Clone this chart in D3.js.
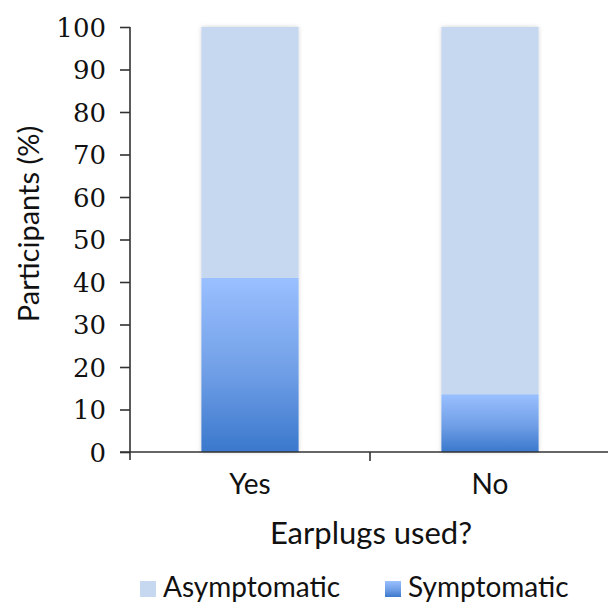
<!DOCTYPE html>
<html>
<head>
<meta charset="utf-8">
<script src="https://cdn.jsdelivr.net/npm/d3@7"></script>
<style>
  html, body { margin: 0; padding: 0; background: #fff; }
  svg { display: block; }
</style>
</head>
<body>
<svg id="chart" width="608" height="606"></svg>
<script>
// Share of participants with symptoms, by earplug use
const categories = ["Yes", "No"];
const symptomatic = [41, 13.6];
const asymptomatic = [59, 86.4];
const seriesNames = ["Asymptomatic", "Symptomatic"];
const yTicks = [0, 10, 20, 30, 40, 50, 60, 70, 80, 90, 100];

const svg = d3.select("#chart");
const sansFont = "Lato, 'Open Sans', sans-serif";
const serifFont = "'DejaVu Serif', serif";
const axisColor = "#333";

const x = d3.scaleBand().domain(categories).range([130, 610]);
const y = d3.scaleLinear().domain([0, 100]).range([452, 27]);
const barW = x.bandwidth() * 0.405;

const defs = svg.append("defs");
const grad = defs.append("linearGradient")
  .attr("id", "symGrad").attr("x1", 0).attr("y1", 0).attr("x2", 0).attr("y2", 1);
grad.append("stop").attr("offset", "0%").attr("stop-color", "#9ac0ff");
grad.append("stop").attr("offset", "55%").attr("stop-color", "#6f9ee6");
grad.append("stop").attr("offset", "100%").attr("stop-color", "#3a78cc");

const shadow = defs.append("filter").attr("id", "soft")
  .attr("x", "-10%").attr("y", "-5%").attr("width", "120%").attr("height", "110%");
shadow.append("feDropShadow").attr("dx", 0).attr("dy", 0)
  .attr("stdDeviation", 2).attr("flood-color", "#000").attr("flood-opacity", 0.18);

// stacked data
const rows = categories.map((c, i) => ({ cat: c, Symptomatic: symptomatic[i], Asymptomatic: asymptomatic[i] }));
const stack = d3.stack().keys(["Symptomatic", "Asymptomatic"])(rows);
const fills = { Asymptomatic: "#c6d8f0", Symptomatic: "url(#symGrad)" };

const barG = svg.append("g").attr("filter", "url(#soft)");
stack.forEach(layer => {
  barG.selectAll(null).data(layer).enter().append("rect")
    .attr("x", d => x(d.data.cat) + (x.bandwidth() - barW) / 2)
    .attr("width", barW)
    .attr("y", d => y(d[1]))
    .attr("height", d => y(d[0]) - y(d[1]))
    .attr("fill", fills[layer.key]);
});

// y axis
const yAxis = svg.append("g").attr("transform", "translate(130,0)")
  .call(d3.axisLeft(y).tickValues(yTicks).tickSize(10).tickPadding(14));
yAxis.select(".domain").attr("stroke", axisColor).attr("stroke-width", 1.6).attr("d", `M0,${y(100)}V${y(0) + 8}`);
yAxis.selectAll(".tick line").attr("stroke", axisColor).attr("stroke-width", 1.6);
yAxis.selectAll(".tick text").attr("font-family", serifFont).attr("font-size", 26)
  .attr("fill", "#111").attr("dy", "0.36em");

// x axis with ticks between categories
const xAxisG = svg.append("g");
xAxisG.append("line").attr("x1", 120).attr("x2", 610).attr("y1", y(0)).attr("y2", y(0))
  .attr("stroke", axisColor).attr("stroke-width", 1.6);
categories.forEach(c => {
  const bx = x(c) + x.bandwidth();
  xAxisG.append("line").attr("x1", bx).attr("x2", bx).attr("y1", y(0)).attr("y2", y(0) + 9)
    .attr("stroke", axisColor).attr("stroke-width", 1.6);
  xAxisG.append("text").attr("x", x(c) + x.bandwidth() / 2).attr("y", 494)
    .attr("text-anchor", "middle").attr("font-family", sansFont).attr("font-size", 28)
    .attr("fill", "#111").text(c);
});

// axis titles
svg.append("text").attr("x", 371).attr("y", 544).attr("text-anchor", "middle")
  .attr("font-family", sansFont).attr("font-size", 31).attr("fill", "#111").text("Earplugs used?");
svg.append("text").attr("transform", "translate(39,224) rotate(-90)").attr("text-anchor", "middle")
  .attr("font-family", sansFont).attr("font-size", 29).attr("fill", "#111").text("Participants (%)");

// legend
const legendX = [140, 385];
const legG = svg.append("g");
seriesNames.forEach((s, i) => {
  legG.append("rect").attr("x", legendX[i]).attr("y", 581).attr("width", 16).attr("height", 16)
    .attr("fill", fills[s]);
  legG.append("text").attr("x", legendX[i] + 23).attr("y", 597)
    .attr("font-family", sansFont).attr("font-size", 28).attr("fill", "#111").text(s);
});
</script>
</body>
</html>
